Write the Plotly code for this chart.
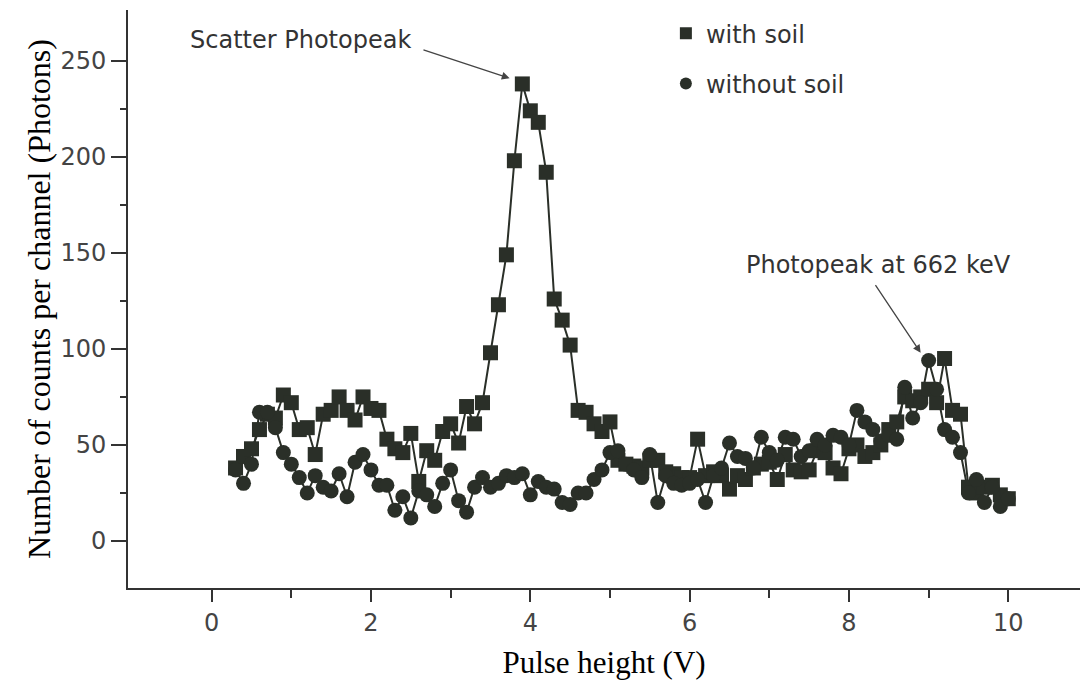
import plotly.graph_objects as go

# Pulse height (V) channels
x_with = [0.3, 0.4, 0.5, 0.6, 0.7, 0.8, 0.9, 1.0, 1.1, 1.2, 1.3, 1.4, 1.5, 1.6, 1.7, 1.8, 1.9, 2.0,
          2.1, 2.2, 2.3, 2.4, 2.5, 2.6, 2.7, 2.8, 2.9, 3.0, 3.1, 3.2, 3.3, 3.4, 3.5, 3.6, 3.7, 3.8,
          3.9, 4.0, 4.1, 4.2, 4.3, 4.4, 4.5, 4.6, 4.7, 4.8, 4.9, 5.0, 5.1, 5.2, 5.3, 5.4, 5.5, 5.6,
          5.7, 5.8, 5.9, 6.0, 6.1, 6.2, 6.3, 6.4, 6.5, 6.6, 6.7, 6.8, 6.9, 7.0, 7.1, 7.2, 7.3, 7.4,
          7.5, 7.6, 7.7, 7.8, 7.9, 8.0, 8.1, 8.2, 8.3, 8.4, 8.5, 8.6, 8.7, 8.8, 8.9, 9.0, 9.1, 9.2,
          9.3, 9.4, 9.5, 9.6, 9.7, 9.8, 9.9, 10.0]
y_with = [38, 44, 48, 58, 66, 64, 76, 72, 58, 59, 45, 66, 68, 75, 68, 63, 75, 69,
          68, 53, 48, 46, 56, 31, 47, 42, 57, 61, 51, 70, 61, 72, 98, 123, 149, 198,
          238, 224, 218, 192, 126, 115, 102, 68, 67, 61, 57, 62, 42, 40, 39, 38, 42, 42,
          36, 35, 33, 33, 53, 34, 36, 34, 27, 34, 32, 38, 40, 41, 32, 45, 37, 36,
          37, 47, 46, 38, 35, 48, 50, 44, 46, 50, 58, 62, 75, 73, 75, 79, 72, 95,
          68, 66, 28, 25, 28, 29, 24, 22]

x_without = [0.3, 0.4, 0.5, 0.6, 0.7, 0.8, 0.9, 1.0, 1.1, 1.2, 1.3, 1.4, 1.5, 1.6, 1.7, 1.8, 1.9, 2.0,
             2.1, 2.2, 2.3, 2.4, 2.5, 2.6, 2.7, 2.8, 2.9, 3.0, 3.1, 3.2, 3.3, 3.4, 3.5, 3.6, 3.7, 3.8,
             3.9, 4.0, 4.1, 4.2, 4.3, 4.4, 4.5, 4.6, 4.7, 4.8, 4.9, 5.0, 5.1, 5.2, 5.3, 5.4, 5.5, 5.6,
             5.7, 5.8, 5.9, 6.0, 6.1, 6.2, 6.3, 6.4, 6.5, 6.6, 6.7, 6.8, 6.9, 7.0, 7.1, 7.2, 7.3, 7.4,
             7.5, 7.6, 7.7, 7.8, 7.9, 8.0, 8.1, 8.2, 8.3, 8.4, 8.5, 8.6, 8.7, 8.8, 8.9, 9.0, 9.1, 9.2,
             9.3, 9.4, 9.5, 9.6, 9.7, 9.8, 9.9, 10.0]
y_without = [37, 30, 40, 67, 67, 59, 46, 40, 33, 25, 34, 28, 26, 35, 23, 41, 45, 37,
             29, 29, 16, 23, 12, 26, 24, 18, 30, 37, 21, 15, 28, 33, 28, 30, 34, 33,
             35, 24, 31, 28, 27, 20, 19, 25, 25, 32, 37, 46, 47, 40, 37, 33, 45, 20,
             34, 30, 29, 30, 32, 20, 34, 38, 51, 44, 43, 38, 54, 46, 42, 54, 53, 44,
             47, 53, 50, 55, 54, 50, 68, 62, 58, 52, 55, 53, 80, 64, 72, 94, 79, 58,
             54, 46, 25, 32, 20, 28, 18, 22]

x_ticks = [0, 2, 4, 6, 8, 10]
y_ticks = [0, 50, 100, 150, 200, 250]

INK = "#2a2f28"
SANS = "DejaVu Sans, Verdana, sans-serif"
SERIF = "Liberation Serif, Times New Roman, serif"

fig = go.Figure()

fig.add_trace(go.Scatter(x=x_with, y=y_with, mode="lines", line=dict(color=INK, width=2),
                         showlegend=False, hoverinfo="skip"))
fig.add_trace(go.Scatter(x=x_without, y=y_without, mode="lines", line=dict(color=INK, width=2),
                         showlegend=False, hoverinfo="skip"))
fig.add_trace(go.Scatter(x=x_with, y=y_with, mode="markers", name="with soil",
                         legendgroup="a",
                         marker=dict(symbol="square", size=15, color=INK)))
fig.add_trace(go.Scatter(x=x_without, y=y_without, mode="markers", name="without soil",
                         legendgroup="b",
                         marker=dict(symbol="circle", size=15, color=INK)))

fig.update_layout(
    width=1080, height=683,
    margin=dict(l=128, r=0, t=10, b=95),
    paper_bgcolor="white", plot_bgcolor="white",
    legend=dict(x=0.565, y=0.998, xanchor="left", yanchor="top",
                font=dict(family=SANS, size=24, color="#333"),
                tracegroupgap=16, itemsizing="constant",
                bgcolor="rgba(0,0,0,0)"),
    xaxis=dict(range=[-1.05, 10.9], tickvals=x_ticks, ticktext=[str(v) for v in x_ticks],
               showline=True, linecolor="#333", linewidth=2, mirror=False,
               ticks="outside", ticklen=12, tickwidth=2, tickcolor="#333",
               minor=dict(ticks="outside", tickvals=[1, 3, 5, 7, 9], ticklen=8, tickwidth=2,
                          tickcolor="#333"),
               showgrid=False, zeroline=False,
               tickfont=dict(family=SANS, size=24, color="#444"),
               title=dict(text="Pulse height (V)", font=dict(family=SERIF, size=31, color="black"),
                          standoff=16)),
    yaxis=dict(range=[-24.5, 276.5], tickvals=y_ticks, ticktext=[str(v) for v in y_ticks],
               showline=True, linecolor="#333", linewidth=2, mirror=False,
               ticks="outside", ticklen=15, tickwidth=2, tickcolor="#333",
               minor=dict(ticks="outside", tickvals=[25, 75, 125, 175, 225], ticklen=6,
                          tickwidth=2, tickcolor="#333"),
               showgrid=False, zeroline=False,
               tickfont=dict(family=SANS, size=24, color="#444"),
               title=dict(text="Number of counts per channel (Photons)",
                          font=dict(family=SERIF, size=32, color="black"), standoff=0)),
)

fig.add_annotation(x=1.12, y=261, xref="x", yref="y", text="Scatter Photopeak", showarrow=False,
                   font=dict(family=SANS, size=24, color="#333"))
fig.add_annotation(x=3.74, y=241, ax=2.64, ay=256, xref="x", yref="y", axref="x", ayref="y",
                   text="", showarrow=True, arrowhead=2, arrowsize=1.2, arrowwidth=1.3,
                   arrowcolor="#444")
fig.add_annotation(x=8.37, y=143.5, xref="x", yref="y", text="Photopeak at 662 keV", showarrow=False,
                   font=dict(family=SANS, size=24, color="#333"))
fig.add_annotation(x=8.9, y=98, ax=8.32, ay=134, xref="x", yref="y", axref="x", ayref="y",
                   text="", showarrow=True, arrowhead=2, arrowsize=1.2, arrowwidth=1.3,
                   arrowcolor="#444")

fig.write_html("out.html")
